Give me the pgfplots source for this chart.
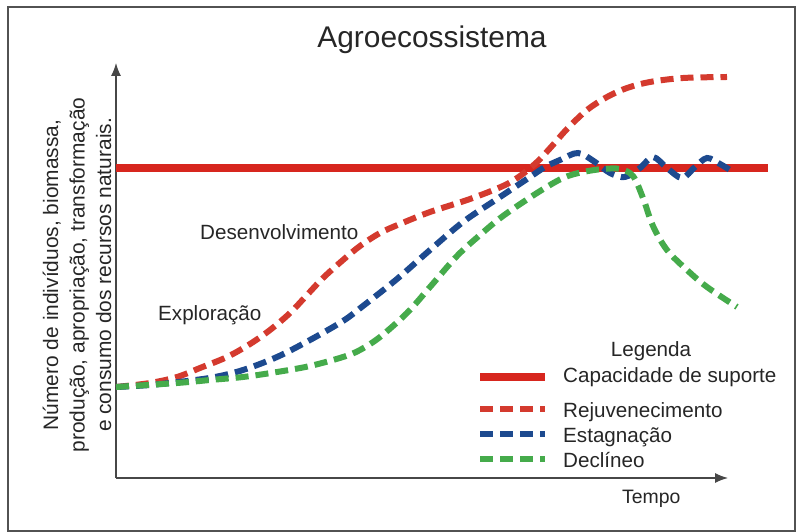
\documentclass[border=0pt]{standalone}
\usepackage{pgfplots}
\pgfplotsset{compat=1.18}
\usepackage{fontspec}
\setmainfont{Liberation Sans}
\usetikzlibrary{arrows.meta}
\definecolor{capred}{HTML}{D7261E}
\definecolor{rejred}{HTML}{D43A2E}
\definecolor{stblue}{HTML}{1D4A8F}
\definecolor{dcgreen}{HTML}{45AB4B}
\begin{document}
\begin{tikzpicture}
\begin{axis}[
  scale only axis,
  width=612bp, height=415bp,
  xmin=116, xmax=728, ymin=0, ymax=415,
  axis lines=left,
  axis line style={-{Latex[length=13bp,width=10bp]}, draw=black!72, line width=1.2bp},
  xtick=\empty, ytick=\empty,
  clip=false,
  title={Agroecossistema},
  every axis title/.style={at={(axis cs:432,430)}, anchor=base, inner sep=0pt, font=\fontsize{30}{35}\selectfont, text=black!85},
  xlabel={Tempo},
  every axis x label/.style={at={(axis cs:622,-25)}, anchor=base west, inner sep=0pt, font=\fontsize{19.5}{24}\selectfont, text=black!85},
  ylabel={Número de indivíduos, biomassa,\\produção, apropriação, transformação\\e consumo dos recursos naturais.},
  every axis y label/.style={at={(axis cs:77,203)}, rotate=90, anchor=center, align=center, inner sep=0pt, font=\fontsize{21}{26.5}\selectfont, text=black!85},
  legend image code/.code={\draw[#1, yshift=3bp] (0bp,0bp) -- (65bp,0bp);},
  legend cell align=left,
  legend style={at={(axis cs:476,111)}, anchor=north west, draw=none, fill=none,
    inner sep=0pt, row sep=5.5bp, column sep=14bp,
    font=\fontsize{20.7}{24}\selectfont, text=black!85,
    nodes={inner sep=0pt, text height=15bp, text depth=4.5bp}},
  dashstyle/.style={line width=6bp, dash pattern=on 13bp off 7bp, smooth, tension=0.55},
]
\path (axis cs:0,478) rectangle (axis cs:797,-54);
\draw[black!68, line width=1.5bp] (axis cs:8,471) rectangle (axis cs:795,-53);

\addplot[capred, line width=8bp, legend image post style={yshift=2bp}] coordinates {(116,310) (768,310)};
\addlegendentry[text depth=14.5bp]{Capacidade de suporte}

\addplot[rejred, dashstyle] coordinates {
(116,91) (150,95) (177,101) (200,110) (227,121) (250,134) (270,148) (290,165)
(307,183) (323,200) (343,218) (360,232) (380,245) (400,254) (430,266) (470,279)
(503,292) (520,302) (537,316) (552,332) (567,349) (587,368) (607,381) (627,390)
(650,396) (683,400) (727,401)};
\addlegendentry{Rejuvenecimento}

\addplot[stblue, dashstyle] coordinates {
(116,91) (150,93) (187,97) (215,101) (243,108) (277,121) (310,138) (343,157)
(363,172) (397,199) (430,228) (463,256) (497,279) (530,301) (545,311) (560,318)
(578,325) (595,316) (610,305) (625,301) (640,310) (653,321) (667,310) (682,300)
(695,311) (707,320) (720,314) (730,308)};
\addlegendentry{Estagnação}

\addplot[dcgreen, dashstyle] coordinates {
(116,91) (177,95) (210,98) (243,101) (277,106) (310,112) (343,121) (360,128)
(380,141) (407,165) (430,191) (457,222) (480,243) (503,262) (537,285) (563,300)
(583,306) (603,309) (620,309) (633,302) (643,280) (653,252) (667,228) (687,208)
(707,191) (737,171)};
\addlegendentry{Declíneo}

\node[anchor=base west, inner sep=0pt, font=\fontsize{20.7}{24}\selectfont, text=black!85] at (axis cs:200,238) {Desenvolvimento};
\node[anchor=base west, inner sep=0pt, font=\fontsize{20.7}{24}\selectfont, text=black!85] at (axis cs:158,157) {Exploração};
\node[anchor=base, inner sep=0pt, font=\fontsize{20.7}{24}\selectfont, text=black!85] at (axis cs:651,121) {Legenda};
\end{axis}
\end{tikzpicture}
\end{document}
